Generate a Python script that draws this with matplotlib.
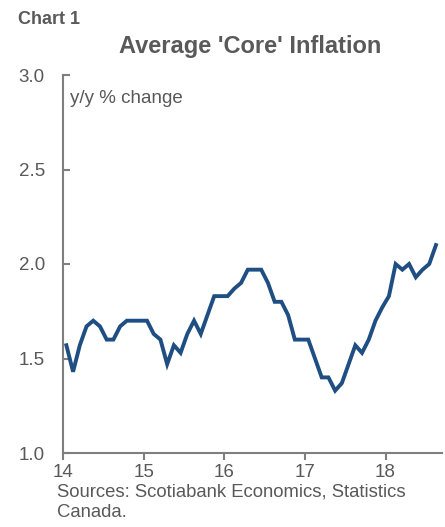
import matplotlib
matplotlib.use("Agg")
import matplotlib.pyplot as plt

# monthly average of the core measures, Jan 2014 - Aug 2018
core_2014 = [1.57, 1.43, 1.57, 1.67, 1.70, 1.67, 1.60, 1.60, 1.67, 1.70, 1.70, 1.70]
core_2015 = [1.70, 1.63, 1.60, 1.47, 1.57, 1.53, 1.63, 1.70, 1.63, 1.73, 1.83, 1.83]
core_2016 = [1.83, 1.87, 1.90, 1.97, 1.97, 1.97, 1.90, 1.80, 1.80, 1.73, 1.60, 1.60]
core_2017 = [1.60, 1.50, 1.40, 1.40, 1.33, 1.37, 1.47, 1.57, 1.53, 1.60, 1.70, 1.77]
core_2018 = [1.83, 2.00, 1.97, 2.00, 1.93, 1.97, 2.00, 2.10]

years = [14, 15, 16, 17, 18]
year_labels = ['14', '15', '16', '17', '18']
y_ticks = [1.0, 1.5, 2.0, 2.5, 3.0]

values = core_2014 + core_2015 + core_2016 + core_2017 + core_2018
# points sit mid-month on the date axis
dates = [14 + (i + 0.5) / 12 for i in range(len(values))]

grey = '#595959'
axis_grey = '#7f7f7f'
plt.rcParams['font.family'] = ['Liberation Sans', 'DejaVu Sans']

fig = plt.figure(figsize=(4.45, 5.27), dpi=100)
ax = fig.add_axes([63 / 445, 74 / 527, 379 / 445, 378 / 527])

ax.plot(dates, values, color='#1f4e82', linewidth=2.8, solid_joinstyle='miter')

ax.set_xlim(14, 14 + 4.7)
ax.set_ylim(1.0, 3.0)
ax.set_xticks(years)
ax.set_xticklabels(year_labels)
ax.set_yticks(y_ticks)
ax.set_yticklabels(['%.1f' % v for v in y_ticks])

for s in ['top', 'right']:
    ax.spines[s].set_visible(False)
for s in ['left', 'bottom']:
    ax.spines[s].set_color(axis_grey)
    ax.spines[s].set_linewidth(1.5)

ax.tick_params(axis='y', direction='in', length=5, width=1.5, color=axis_grey,
               labelsize=13.5, labelcolor=grey, pad=13)
ax.tick_params(axis='x', direction='out', length=5, width=1.5, color=axis_grey,
               labelsize=13.5, labelcolor=grey, pad=3)

ax.text(0.018, 0.937, 'y/y % change', transform=ax.transAxes, fontsize=13.5,
        color=grey, va='center', ha='left')

fig.text(18 / 445, 1 - 19 / 527, 'Chart 1', fontsize=13, fontweight='bold',
         color=grey, va='center', ha='left')
fig.text(250 / 445, 1 - 47 / 527, "Average 'Core' Inflation", fontsize=17,
         fontweight='bold', color=grey, va='center', ha='center')
fig.text(57 / 445, 1 - 502 / 527, 'Sources: Scotiabank Economics, Statistics\nCanada.',
         fontsize=13.3, color=grey, va='center', ha='left', linespacing=1.3)

fig.savefig('out.png', dpi=100)
